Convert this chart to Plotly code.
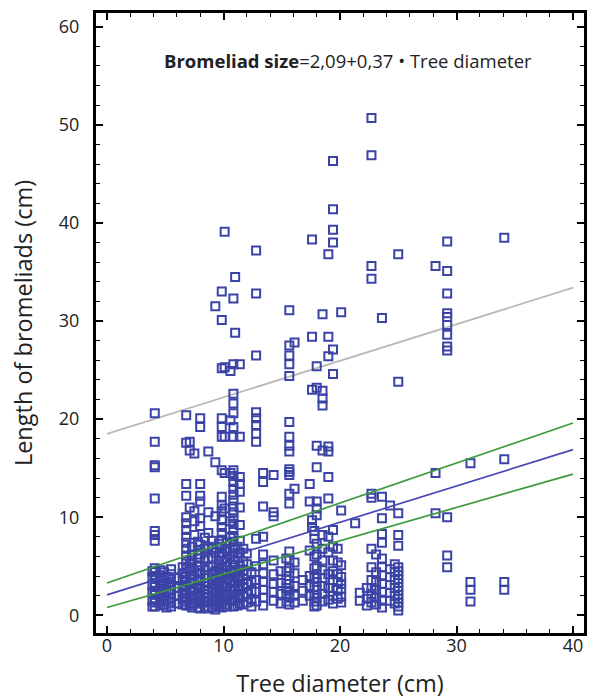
import plotly.graph_objects as go

# Scatter data: tree diameter columns and the bromeliad lengths measured at each
col_x = [4.1, 4.6, 5.5, 6.0, 6.8, 7.1, 7.5, 8.0, 8.7, 9.3, 9.85, 10.1, 10.6, 10.85, 11.0,
         11.4, 12.0, 12.8, 13.4, 14.3, 14.9, 15.65, 16.1, 16.8, 17.4, 17.6, 18.0, 18.5,
         19.0, 19.4, 20.1, 21.3, 21.7, 22.3, 22.7, 23.6, 24.3, 25.0, 28.2, 29.2, 31.2, 34.1]
col_y = [
    [20.6, 17.7, 15.3, 15.1, 11.9, 8.6, 8.2, 7.6, 4.8, 4.4, 4.0, 3.7, 3.3, 2.9, 2.5, 2.1, 1.7, 1.3, 0.9],
    [4.6, 4.1, 3.5, 3.0, 2.6, 2.2, 1.8, 1.4, 1.0],
    [4.7, 4.2, 3.7, 3.1, 2.6, 2.2, 1.8, 1.3, 0.9],
    [3.8, 2.8, 2.0, 1.2],
    [20.4, 17.6, 13.4, 12.2, 10.0, 9.4, 8.7, 8.0, 7.4, 6.8, 6.1, 5.5, 4.9, 4.4, 3.9, 3.4, 3.0, 2.6, 2.2, 1.8, 1.4, 1.0],
    [17.7, 16.8, 11.0, 5.2, 4.2, 3.2, 2.4, 1.6, 1.0],
    [16.5, 10.6, 9.6, 8.2, 4.6, 3.7, 2.8, 2.0, 1.2],
    [20.1, 19.2, 13.4, 12.2, 11.6, 9.9, 9.1, 7.2, 6.2, 5.0, 4.3, 3.6, 3.0, 2.4, 1.8, 1.2, 0.7],
    [16.7, 10.5, 8.4, 7.0, 5.8, 4.9, 4.1, 3.3, 2.6, 1.9, 1.3, 0.7],
    [31.5, 15.6, 10.1, 6.4, 4.5, 3.8, 3.1, 2.4, 1.7, 1.1, 0.6],
    [33.0, 30.1, 25.2, 20.1, 19.2, 18.2, 14.8, 12.1, 11.2, 10.6, 9.7, 9.0, 8.4, 7.7, 7.0, 6.3, 5.6, 4.9, 4.3, 3.7, 3.1, 2.5, 1.9, 1.3, 0.8],
    [39.1, 25.3, 18.2, 14.5, 10.9, 6.8, 5.4, 4.1, 3.0, 2.0, 1.1],
    [24.9, 19.9, 14.5, 9.6, 8.0, 6.0, 4.6, 3.5, 2.5, 1.5],
    [32.3, 25.6, 22.6, 21.6, 20.6, 19.2, 18.2, 14.8, 14.2, 13.6, 12.9, 12.3, 11.7, 11.1, 10.5, 9.9, 9.3, 8.7, 8.1, 7.5, 6.9, 6.3, 5.7, 5.1, 4.5, 3.9, 3.3, 2.7, 2.1, 1.5, 0.9],
    [34.5, 28.8],
    [25.6, 18.2, 14.1, 13.4, 12.6, 11.0, 9.2, 7.6, 6.4, 5.0, 4.0, 3.0, 2.0, 1.2],
    [6.3, 5.2, 4.2, 3.2, 2.2, 1.3],
    [37.2, 32.8, 26.5, 20.7, 20.1, 19.4, 18.5, 17.7, 7.8, 5.0, 3.6, 2.4, 1.4],
    [14.5, 13.6, 11.1, 8.0, 6.2, 5.2, 4.3, 3.4, 2.6, 1.8, 1.0],
    [14.3, 10.5, 10.1, 5.6, 4.2, 3.2, 2.4, 1.5],
    [4.5, 3.3, 2.2, 1.2],
    [31.1, 27.5, 26.5, 25.6, 24.4, 19.7, 18.2, 17.3, 16.7, 14.9, 14.6, 14.3, 12.4, 11.4, 6.5, 5.6, 4.8, 4.0, 3.2, 2.5, 1.8, 1.1],
    [27.8, 12.9, 5.4, 4.3, 3.0, 2.0, 1.3],
    [3.6, 2.5, 1.5],
    [13.4, 11.6, 6.6, 4.0, 3.0, 2.0],
    [38.3, 28.4, 23.0, 9.7, 9.0],
    [25.4, 23.2, 17.3, 15.1, 11.6, 10.9, 10.2, 7.3, 6.2, 5.0, 4.2, 3.4, 2.6, 1.8, 1.0],
    [30.7, 22.9, 22.1, 21.4, 16.8, 8.2, 6.8, 5.6, 4.6, 3.8, 3.0, 2.2, 1.4],
    [36.8, 28.4, 26.4, 17.2, 16.7, 14.1, 11.9, 8.0, 6.4, 4.2, 2.8, 1.6],
    [46.3, 41.4, 39.3, 38.0, 27.1, 24.6, 8.7, 7.0, 5.6, 4.5, 3.6, 2.8, 2.0, 1.2],
    [30.9, 10.7, 5.1, 3.9, 3.2, 2.7, 1.9, 1.3],
    [9.4],
    [2.3, 1.5],
    [2.8, 1.7, 1.0],
    [50.7, 46.9, 35.6, 34.3, 12.4, 12.0, 6.8, 4.9, 3.6, 2.8, 2.2, 1.3],
    [30.3, 12.1, 9.9, 8.3, 7.4, 5.8, 4.9, 4.1, 3.2, 2.4, 1.5, 0.8],
    [11.2, 4.7, 3.9, 3.1, 2.3, 1.5],
    [36.8, 23.8, 10.4, 8.2, 7.1, 4.9, 4.5, 4.1, 3.7, 3.3, 2.9, 2.5, 2.1, 1.7, 1.3, 0.9, 0.5],
    [35.6, 14.5, 10.4],
    [38.1, 35.1, 32.8, 30.8, 30.4, 29.6, 28.6, 27.4, 27.0, 10.0, 6.1, 4.9],
    [15.5, 3.4, 2.6, 1.4],
    [38.5, 15.9, 3.4, 2.6],
]

# Extra columns filling the dense band of small bromeliads
band_x = [3.9, 4.9, 5.1, 6.5, 7.3, 7.8, 8.4, 9.0, 9.6, 10.3, 11.2, 11.7, 12.4,
          15.4, 17.8, 19.8, 23.1, 24.7]
band_y = [
    [4.5, 3.9, 3.1, 2.3, 1.5, 0.9],
    [4.4, 3.8, 3.2, 2.7, 2.0, 1.5, 1.1],
    [3.9, 3.3, 2.4, 1.6, 0.8],
    [4.9, 4.3, 3.6, 2.9, 2.3, 1.7, 1.1],
    [7.0, 6.2, 5.6, 4.9, 4.0, 3.3, 2.6, 1.9, 1.3, 0.8],
    [7.5, 6.6, 5.8, 5.1, 4.3, 3.5, 2.7, 2.0, 1.4, 0.8],
    [7.9, 6.8, 5.6, 4.6, 3.8, 3.0, 2.2, 1.5, 0.9],
    [7.6, 6.9, 5.9, 5.0, 4.3, 3.5, 2.8, 2.0, 1.4, 0.8],
    [7.3, 6.0, 5.2, 4.6, 4.0, 3.4, 2.8, 2.2, 1.5, 0.9],
    [7.4, 6.5, 5.8, 5.0, 4.3, 3.6, 2.8, 2.2, 1.6, 0.9],
    [7.0, 5.9, 4.6, 3.6, 2.6, 1.7, 1.0],
    [6.8, 5.5, 4.6, 3.7, 2.8, 1.9, 1.1],
    [4.4, 3.4, 2.5, 1.6, 0.9],
    [5.8, 4.5, 3.6, 2.8, 2.1, 1.4],
    [8.6, 7.8, 6.0, 4.8, 3.8, 2.9, 2.1, 1.4, 0.9],
    [6.8, 5.4, 4.2, 3.4, 2.6, 1.7],
    [6.2, 4.4, 3.4, 2.6, 1.8, 1.1],
    [5.2, 4.4, 3.6, 2.8, 2.0, 1.2],
]

# Regression line, confidence band and upper prediction limit (endpoints)
line_x = [0, 40]
fit_y = [2.09, 16.89]
ci_upper = [3.3, 19.6]
ci_lower = [0.8, 14.4]
pred_upper = [18.5, 33.4]

x_ticks = [0, 10, 20, 30, 40]
y_ticks = [0, 10, 20, 30, 40, 50, 60]

pts_x, pts_y = [], []
for cx, ys in list(zip(col_x, col_y)) + list(zip(band_x, band_y)):
    for v in ys:
        pts_x.append(cx)
        pts_y.append(v)

BLUE = "#3b43a6"
FONT = "Open Sans"

fig = go.Figure()
fig.add_trace(go.Scatter(x=line_x, y=pred_upper, mode="lines",
                         line=dict(color="#bdb8b4", width=1.8), hoverinfo="skip"))
fig.add_trace(go.Scatter(x=pts_x, y=pts_y, mode="markers",
                         marker=dict(symbol="square-open", size=8, color=BLUE,
                                     line=dict(width=2, color=BLUE))))
fig.add_trace(go.Scatter(x=line_x, y=ci_upper, mode="lines",
                         line=dict(color="#3c9a3c", width=1.7)))
fig.add_trace(go.Scatter(x=line_x, y=fit_y, mode="lines",
                         line=dict(color="#4848b4", width=1.7)))
fig.add_trace(go.Scatter(x=line_x, y=ci_lower, mode="lines",
                         line=dict(color="#3c9a3c", width=1.7)))

axis_common = dict(showline=True, linecolor="black", linewidth=2, mirror="allticks",
                   ticks="inside", ticklen=8, tickwidth=1.5, tickcolor="black",
                   showgrid=False, zeroline=False, automargin=False,
                   tickfont=dict(family=FONT, size=18, color="#222"))

fig.update_xaxes(range=[-1.03, 41.03], tickvals=x_ticks, ticklabelstandoff=-6,
                 minor=dict(ticks="inside", dtick=2, ticklen=5, tickwidth=1.2, tickcolor="black"),
                 title=dict(text="Tree diameter (cm)", font=dict(family=FONT, size=23.5, color="#222"),
                            standoff=20),
                 **axis_common)
fig.update_yaxes(range=[-1.9, 61.5], tickvals=y_ticks, ticklabelstandoff=10,
                 minor=dict(ticks="inside", dtick=2, ticklen=5, tickwidth=1.2, tickcolor="black"),
                 title=dict(text="Length of bromeliads (cm)", font=dict(family=FONT, size=23.5, color="#222"),
                            standoff=20),
                 **axis_common)

fig.add_shape(type="rect", xref="paper", yref="paper", x0=0, x1=1, y0=0, y1=1,
              line=dict(color="black", width=2), layer="above")

fig.add_annotation(x=20.7, y=56.6, xref="x", yref="y", showarrow=False,
                   text="<b>Bromeliad size</b>=2,09+0,37 • Tree diameter",
                   font=dict(family=FONT, size=18.5, color="#222"))

fig.update_layout(width=597, height=700, showlegend=False,
                  plot_bgcolor="white", paper_bgcolor="white",
                  margin=dict(l=95, r=12, t=12, b=66))

fig.write_html("out.html", config={"displayModeBar": False},
               post_script="document.body.style.margin='0';document.body.style.overflow='hidden';")
